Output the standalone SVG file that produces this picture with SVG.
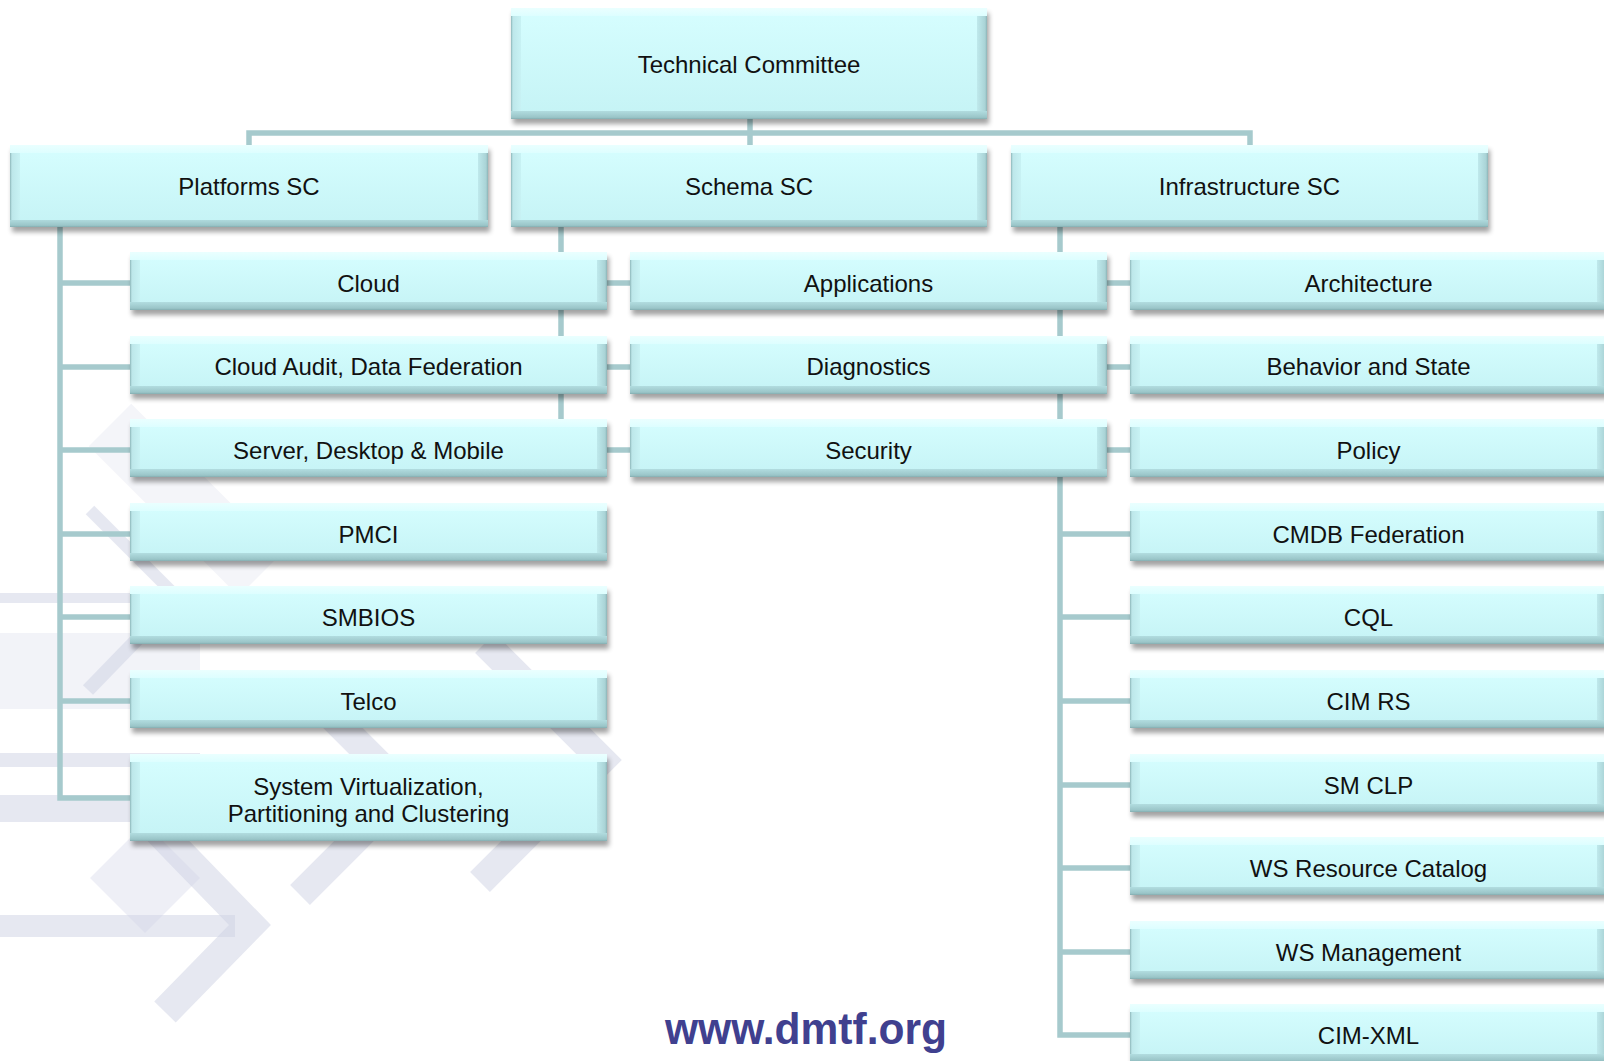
<svg xmlns="http://www.w3.org/2000/svg" width="1604" height="1061" viewBox="0 0 1604 1061">
<defs>
<linearGradient id="gMain" x1="0" y1="0" x2="0" y2="1">
<stop offset="0" stop-color="#d6feff"/><stop offset="1" stop-color="#c5f3f5"/>
</linearGradient>
<linearGradient id="gH" x1="0" y1="0" x2="1" y2="0">
<stop offset="0" stop-color="#8db6b9"/><stop offset="0.004" stop-color="#bde7ea"/><stop offset="0.021" stop-color="#c8f2f4"/><stop offset="0.021" stop-color="#c8f2f4" stop-opacity="0"/>
<stop offset="0.979" stop-color="#b6e0e3" stop-opacity="0"/><stop offset="0.979" stop-color="#bfe9ec"/><stop offset="0.996" stop-color="#a9d3d6"/><stop offset="1" stop-color="#8cb4b7"/>
</linearGradient>
<linearGradient id="gV58" x1="0" y1="0" x2="0" y2="1">
<stop offset="0" stop-color="#eaffff"/><stop offset="0.14" stop-color="#ddfeff"/><stop offset="0.14" stop-color="#ddfeff" stop-opacity="0"/>
<stop offset="0.87" stop-color="#a8d3d6" stop-opacity="0"/><stop offset="0.87" stop-color="#b0dbde"/><stop offset="0.97" stop-color="#9ac5c8"/><stop offset="1" stop-color="#84adb0"/>
</linearGradient>
<linearGradient id="gV82" x1="0" y1="0" x2="0" y2="1">
<stop offset="0" stop-color="#eaffff"/><stop offset="0.10" stop-color="#ddfeff"/><stop offset="0.10" stop-color="#ddfeff" stop-opacity="0"/>
<stop offset="0.91" stop-color="#a8d3d6" stop-opacity="0"/><stop offset="0.91" stop-color="#b0dbde"/><stop offset="0.98" stop-color="#9ac5c8"/><stop offset="1" stop-color="#84adb0"/>
</linearGradient>
<linearGradient id="gV87" x1="0" y1="0" x2="0" y2="1">
<stop offset="0" stop-color="#eaffff"/><stop offset="0.095" stop-color="#ddfeff"/><stop offset="0.095" stop-color="#ddfeff" stop-opacity="0"/>
<stop offset="0.91" stop-color="#a8d3d6" stop-opacity="0"/><stop offset="0.91" stop-color="#b0dbde"/><stop offset="0.98" stop-color="#9ac5c8"/><stop offset="1" stop-color="#84adb0"/>
</linearGradient>
<linearGradient id="gV111" x1="0" y1="0" x2="0" y2="1">
<stop offset="0" stop-color="#eaffff"/><stop offset="0.075" stop-color="#ddfeff"/><stop offset="0.075" stop-color="#ddfeff" stop-opacity="0"/>
<stop offset="0.93" stop-color="#a8d3d6" stop-opacity="0"/><stop offset="0.93" stop-color="#b0dbde"/><stop offset="0.985" stop-color="#9ac5c8"/><stop offset="1" stop-color="#84adb0"/>
</linearGradient>
<filter id="blur" x="-5%" y="-30%" width="110%" height="160%"><feGaussianBlur stdDeviation="2.5"/></filter>
<style>
.sh{fill:#000;opacity:.36;filter:url(#blur)}
.bx{fill:url(#gMain)}
.eh{fill:url(#gH)}
.v58{fill:url(#gV58)}
.v82{fill:url(#gV82)}
.v87{fill:url(#gV87)}
.v111{fill:url(#gV111)}
.t{font-family:"Liberation Sans",Arial,sans-serif;font-size:24px;fill:#111;text-anchor:middle}
.c{stroke:#a6cacd;stroke-width:5.5;fill:none;stroke-linejoin:miter}
.bgf{fill:#cdd1e4;opacity:.5}
.bgs{stroke:#cdd1e4;opacity:.5;fill:none;stroke-linejoin:miter}
</style>
</defs>
<rect x="0" y="0" width="1604" height="1061" fill="#ffffff"/>
<g id="background">
<polyline class="bgs" points="110,425 260,575" stroke-width="60" style="opacity:.22"/>
<polyline class="bgs" points="90,510 215,635" stroke-width="12"/>
<polyline class="bgs" points="88,690 152,624" stroke-width="14"/>
<rect class="bgf" x="0" y="593" width="200" height="10"/>
<rect class="bgf" x="0" y="633" width="200" height="76" style="opacity:.25"/>
<rect class="bgf" x="0" y="753" width="200" height="14"/>
<rect class="bgf" x="0" y="795" width="200" height="27"/>
<rect class="bgf" x="0" y="915" width="235" height="22"/>
<polygon class="bgf" points="90,878 145,823 200,878 145,933" style="opacity:.35"/>
<polyline class="bgs" points="150,822 250,925 165,1012" stroke-width="30"/>
<polyline class="bgs" points="305,690 405,790 300,895" stroke-width="28"/>
<polyline class="bgs" points="485,643 602,760 480,882" stroke-width="28"/>
</g>
<g id="connectors">
<path class="c" d="M750,119 V145"/>
<path class="c" d="M249,145 V133 H1250 V145"/>
<path class="c" d="M60,227 V798 H130"/>
<path class="c" d="M60,283 H130 M60,367 H130 M60,450 H130 M60,534 H130 M60,617 H130 M60,701 H130"/>
<path class="c" d="M561,227 V450 M561,283 H630 M561,367 H630 M561,450 H630"/>
<path class="c" d="M1060,227 V1035 H1130"/>
<path class="c" d="M1060,283 H1130 M1060,367 H1130 M1060,450 H1130 M1060,534 H1130 M1060,617 H1130 M1060,701 H1130 M1060,785 H1130 M1060,868 H1130 M1060,952 H1130"/>
</g>
<g id="n-technical-committee"><rect class="sh" x="513" y="13" width="476" height="111"/><rect class="bx" x="511" y="8" width="476" height="111"/><rect class="eh" x="511" y="8" width="476" height="111"/><rect class="v111" x="511" y="8" width="476" height="111"/><text class="t" x="749" y="73">Technical Committee</text></g>
<g id="n-platforms-sc"><rect class="sh" x="12" y="150" width="478" height="82"/><rect class="bx" x="10" y="145" width="478" height="82"/><rect class="eh" x="10" y="145" width="478" height="82"/><rect class="v82" x="10" y="145" width="478" height="82"/><text class="t" x="249" y="195">Platforms SC</text></g>
<g id="n-schema-sc"><rect class="sh" x="513" y="150" width="476" height="82"/><rect class="bx" x="511" y="145" width="476" height="82"/><rect class="eh" x="511" y="145" width="476" height="82"/><rect class="v82" x="511" y="145" width="476" height="82"/><text class="t" x="749" y="195">Schema SC</text></g>
<g id="n-infrastructure-sc"><rect class="sh" x="1013" y="150" width="477" height="82"/><rect class="bx" x="1011" y="145" width="477" height="82"/><rect class="eh" x="1011" y="145" width="477" height="82"/><rect class="v82" x="1011" y="145" width="477" height="82"/><text class="t" x="1249.5" y="195">Infrastructure SC</text></g>

<g id="n-cloud"><rect class="sh" x="132" y="257" width="477" height="58"/><rect class="bx" x="130" y="252" width="477" height="58"/><rect class="eh" x="130" y="252" width="477" height="58"/><rect class="v58" x="130" y="252" width="477" height="58"/><text class="t" x="368.5" y="291.5">Cloud</text></g>
<g id="n-cloud-audit"><rect class="sh" x="132" y="341" width="477" height="58"/><rect class="bx" x="130" y="336" width="477" height="58"/><rect class="eh" x="130" y="336" width="477" height="58"/><rect class="v58" x="130" y="336" width="477" height="58"/><text class="t" x="368.5" y="375">Cloud Audit, Data Federation</text></g>
<g id="n-server"><rect class="sh" x="132" y="424" width="477" height="58"/><rect class="bx" x="130" y="419" width="477" height="58"/><rect class="eh" x="130" y="419" width="477" height="58"/><rect class="v58" x="130" y="419" width="477" height="58"/><text class="t" x="368.5" y="459">Server, Desktop &amp; Mobile</text></g>
<g id="n-pmci"><rect class="sh" x="132" y="508" width="477" height="58"/><rect class="bx" x="130" y="503" width="477" height="58"/><rect class="eh" x="130" y="503" width="477" height="58"/><rect class="v58" x="130" y="503" width="477" height="58"/><text class="t" x="368.5" y="542.5">PMCI</text></g>
<g id="n-smbios"><rect class="sh" x="132" y="591" width="477" height="58"/><rect class="bx" x="130" y="586" width="477" height="58"/><rect class="eh" x="130" y="586" width="477" height="58"/><rect class="v58" x="130" y="586" width="477" height="58"/><text class="t" x="368.5" y="625.5">SMBIOS</text></g>
<g id="n-telco"><rect class="sh" x="132" y="675" width="477" height="58"/><rect class="bx" x="130" y="670" width="477" height="58"/><rect class="eh" x="130" y="670" width="477" height="58"/><rect class="v58" x="130" y="670" width="477" height="58"/><text class="t" x="368.5" y="709.5">Telco</text></g>
<g id="n-sysvirt"><rect class="sh" x="132" y="759" width="477" height="87"/><rect class="bx" x="130" y="754" width="477" height="87"/><rect class="eh" x="130" y="754" width="477" height="87"/><rect class="v87" x="130" y="754" width="477" height="87"/><text class="t" x="368.5" y="795">System Virtualization,</text><text class="t" x="368.5" y="822">Partitioning and Clustering</text></g>

<g id="n-applications"><rect class="sh" x="632" y="257" width="477" height="58"/><rect class="bx" x="630" y="252" width="477" height="58"/><rect class="eh" x="630" y="252" width="477" height="58"/><rect class="v58" x="630" y="252" width="477" height="58"/><text class="t" x="868.5" y="291.5">Applications</text></g>
<g id="n-diagnostics"><rect class="sh" x="632" y="341" width="477" height="58"/><rect class="bx" x="630" y="336" width="477" height="58"/><rect class="eh" x="630" y="336" width="477" height="58"/><rect class="v58" x="630" y="336" width="477" height="58"/><text class="t" x="868.5" y="375">Diagnostics</text></g>
<g id="n-security"><rect class="sh" x="632" y="424" width="477" height="58"/><rect class="bx" x="630" y="419" width="477" height="58"/><rect class="eh" x="630" y="419" width="477" height="58"/><rect class="v58" x="630" y="419" width="477" height="58"/><text class="t" x="868.5" y="459">Security</text></g>

<g id="n-architecture"><rect class="sh" x="1132" y="257" width="477" height="58"/><rect class="bx" x="1130" y="252" width="477" height="58"/><rect class="eh" x="1130" y="252" width="477" height="58"/><rect class="v58" x="1130" y="252" width="477" height="58"/><text class="t" x="1368.5" y="291.5">Architecture</text></g>
<g id="n-behavior"><rect class="sh" x="1132" y="341" width="477" height="58"/><rect class="bx" x="1130" y="336" width="477" height="58"/><rect class="eh" x="1130" y="336" width="477" height="58"/><rect class="v58" x="1130" y="336" width="477" height="58"/><text class="t" x="1368.5" y="375">Behavior and State</text></g>
<g id="n-policy"><rect class="sh" x="1132" y="424" width="477" height="58"/><rect class="bx" x="1130" y="419" width="477" height="58"/><rect class="eh" x="1130" y="419" width="477" height="58"/><rect class="v58" x="1130" y="419" width="477" height="58"/><text class="t" x="1368.5" y="459">Policy</text></g>
<g id="n-cmdb"><rect class="sh" x="1132" y="508" width="477" height="58"/><rect class="bx" x="1130" y="503" width="477" height="58"/><rect class="eh" x="1130" y="503" width="477" height="58"/><rect class="v58" x="1130" y="503" width="477" height="58"/><text class="t" x="1368.5" y="542.5">CMDB Federation</text></g>
<g id="n-cql"><rect class="sh" x="1132" y="591" width="477" height="58"/><rect class="bx" x="1130" y="586" width="477" height="58"/><rect class="eh" x="1130" y="586" width="477" height="58"/><rect class="v58" x="1130" y="586" width="477" height="58"/><text class="t" x="1368.5" y="625.5">CQL</text></g>
<g id="n-cimrs"><rect class="sh" x="1132" y="675" width="477" height="58"/><rect class="bx" x="1130" y="670" width="477" height="58"/><rect class="eh" x="1130" y="670" width="477" height="58"/><rect class="v58" x="1130" y="670" width="477" height="58"/><text class="t" x="1368.5" y="709.5">CIM RS</text></g>
<g id="n-smclp"><rect class="sh" x="1132" y="759" width="477" height="58"/><rect class="bx" x="1130" y="754" width="477" height="58"/><rect class="eh" x="1130" y="754" width="477" height="58"/><rect class="v58" x="1130" y="754" width="477" height="58"/><text class="t" x="1368.5" y="793.5">SM CLP</text></g>
<g id="n-wsrc"><rect class="sh" x="1132" y="842" width="477" height="58"/><rect class="bx" x="1130" y="837" width="477" height="58"/><rect class="eh" x="1130" y="837" width="477" height="58"/><rect class="v58" x="1130" y="837" width="477" height="58"/><text class="t" x="1368.5" y="876.5">WS Resource Catalog</text></g>
<g id="n-wsman"><rect class="sh" x="1132" y="926" width="477" height="58"/><rect class="bx" x="1130" y="921" width="477" height="58"/><rect class="eh" x="1130" y="921" width="477" height="58"/><rect class="v58" x="1130" y="921" width="477" height="58"/><text class="t" x="1368.5" y="960.5">WS Management</text></g>
<g id="n-cimxml"><rect class="sh" x="1132" y="1009" width="477" height="58"/><rect class="bx" x="1130" y="1004" width="477" height="58"/><rect class="eh" x="1130" y="1004" width="477" height="58"/><rect class="v58" x="1130" y="1004" width="477" height="58"/><text class="t" x="1368.5" y="1043.5">CIM-XML</text></g>

<text id="url" x="665" y="1044" textLength="282" lengthAdjust="spacingAndGlyphs" style="font-family:'Liberation Sans',Arial,sans-serif;font-weight:bold;font-size:44px;fill:#40408f">www.dmtf.org</text>
</svg>
